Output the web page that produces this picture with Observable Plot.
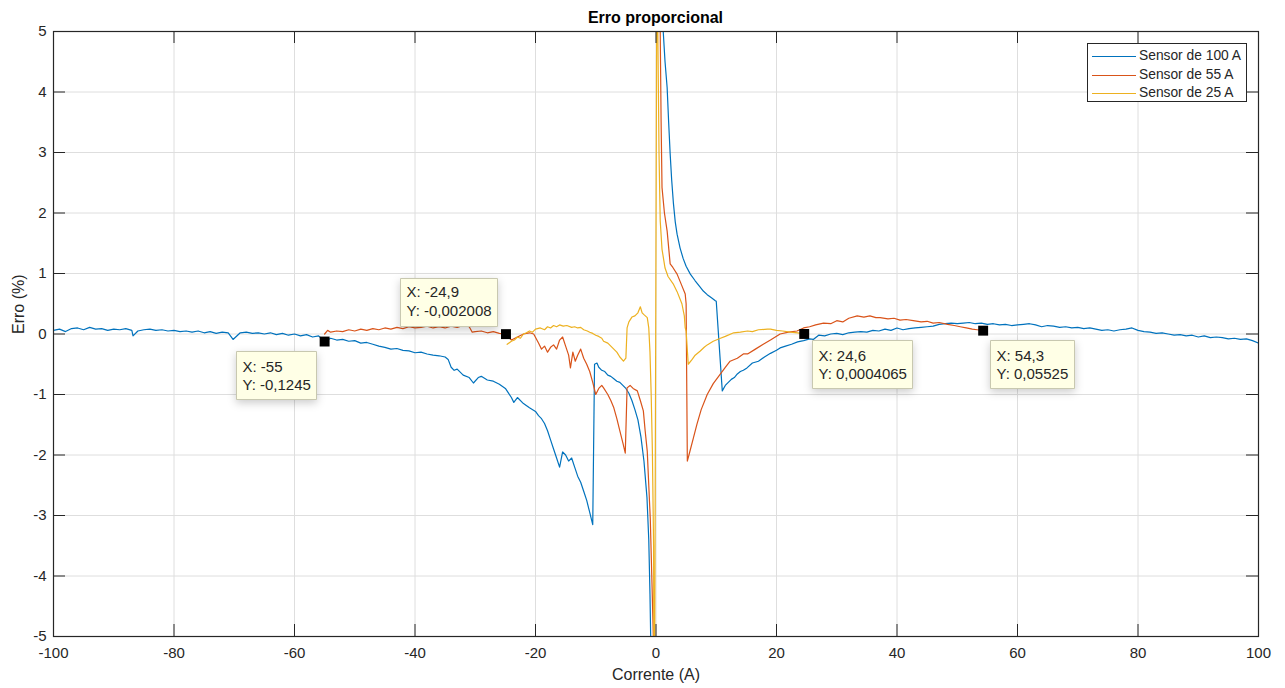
<!DOCTYPE html>
<html>
<head>
<meta charset="utf-8">
<script src="https://cdn.jsdelivr.net/npm/d3@7"></script>
<script src="https://cdn.jsdelivr.net/npm/@observablehq/plot@0.6"></script>
<style>
  html, body { margin: 0; padding: 0; background: #fff; }
  #wrap { position: relative; width: 1285px; height: 688px; font-family: "Liberation Sans", Arial, Helvetica, sans-serif; color: #262626; }
  #title { position: relative; z-index: 2; box-sizing: border-box; height: 15px; padding: 9px 27px 0 53px; line-height: 17px; text-align: center; font-weight: bold; font-size: 16px; color: #000; white-space: nowrap; }
  #legend { position: absolute; left: 1087px; top: 43px; width: 158px; height: 57px; border: 1px solid #262626; background: #fff; font-size: 13.8px; z-index: 3; }
  #legend .row { position: absolute; left: 0; height: 18px; line-height: 18px; white-space: nowrap; }
  #legend svg { position: absolute; left: 4px; top: 8px; }
  #legend span { position: absolute; left: 51px; top: 0; }
</style>
</head>
<body>
<div id="wrap">
  <div id="title">Erro proporcional</div>
  <div id="chart"></div>
  <div id="legend"></div>
</div>
<script>
// ---------- data ----------
const seriesNames = ["Sensor de 100 A", "Sensor de 55 A", "Sensor de 25 A"];
const seriesColors = ["#0072BD", "#D95319", "#EDB120"];

const xTicks = [-100, -80, -60, -40, -20, 0, 20, 40, 60, 80, 100];
const yTicks = [-5, -4, -3, -2, -1, 0, 1, 2, 3, 4, 5];

// Sensor de 100 A
const blueX = [-100,-99,-98,-97,-96,-95,-94,-93,-92,-91,-90,-89,-88,-87,-86.8,-86,-85,-84,-83,-82,-81,-80,-79,-78,-77,-76,-75,-74,-73,-72,-71,-70.2,-69,-68,-67,-66,-65,-64,-63,-62,-61,-60,-59,-58,-57,-56,-55,-54,-53,-52,-51,-50,-49,-48,-47,-46,-45,-44,-43,-42,-41,-40,-39,-38,-37,-36,-35,-34.5,-34,-33.5,-33,-32,-31,-30.3,-29.5,-29,-28,-27,-26,-25,-24,-23.6,-23,-22,-21,-20,-19.5,-19,-18.5,-18,-17.5,-17,-16.5,-16,-15.5,-15,-14.5,-14,-13.5,-13,-12.5,-12,-11.5,-11,-10.5,-10.2,-9.8,-9.5,-9,-8.5,-8,-7.5,-7,-6.5,-6,-5.5,-5,-4.5,-4,-3.5,-3,-2.5,-2,-1.5,-1.2,-1.0,-0.8,-0.6,
  0.1,
  0.9,1.2,1.5,1.85,2.1,2.35,2.6,2.9,3.2,3.5,4.0,4.5,5.0,5.7,6.5,7.2,7.85,8.5,9.2,9.85,10.0,11.0,11.5,12,12.5,13,13.5,14,14.5,15.1,16,17,18,19,20,20.6,21.5,22.5,23.5,24.5,25.5,26.1,27,28,29,30,31,32,33,34,35,36,37,38,39,40,41,42,43,44,45,46,47,48,49,50,51,52,53,54,55,56,57,58,59,60,61,62,63,64,65,66,67,68,69,70,71,72,73,74,75,76,77,78,79,80,81,82,83,84,85,86,87,88,89,90,91,92,93,94,95,96,97,98,99,100];
const blueY = [0.06,0.08,0.04,0.09,0.10,0.07,0.11,0.08,0.09,0.06,0.08,0.07,0.09,0.06,-0.03,0.05,0.07,0.08,0.06,0.07,0.05,0.06,0.04,0.05,0.03,0.05,0.02,0.04,0.01,0.03,0.02,-0.09,0.02,0.03,0.01,0.02,0.0,0.02,-0.01,0.01,-0.02,0.0,-0.03,-0.01,-0.05,-0.03,-0.1245,-0.07,-0.10,-0.09,-0.12,-0.11,-0.15,-0.14,-0.17,-0.20,-0.22,-0.25,-0.24,-0.27,-0.28,-0.31,-0.30,-0.33,-0.35,-0.36,-0.38,-0.42,-0.55,-0.60,-0.58,-0.68,-0.72,-0.81,-0.72,-0.70,-0.76,-0.78,-0.83,-0.90,-1.05,-1.13,-1.05,-1.15,-1.22,-1.28,-1.35,-1.40,-1.48,-1.60,-1.75,-1.90,-2.05,-2.20,-1.95,-2.00,-2.10,-2.05,-2.20,-2.35,-2.45,-2.60,-2.75,-2.95,-3.15,-0.50,-0.48,-0.55,-0.60,-0.62,-0.68,-0.70,-0.74,-0.78,-0.80,-0.85,-0.90,-0.98,-1.10,-1.25,-1.42,-1.70,-2.10,-2.70,-3.40,-4.30,-5.50,-8,
  NaN,
  8,5.0,4.5,4.07,3.5,2.98,2.55,2.15,1.85,1.65,1.42,1.25,1.12,0.99,0.88,0.79,0.71,0.65,0.60,0.55,0.54,-0.94,-0.85,-0.80,-0.75,-0.72,-0.66,-0.62,-0.60,-0.56,-0.48,-0.45,-0.38,-0.32,-0.27,-0.23,-0.20,-0.17,-0.13,-0.11,-0.08,-0.09,-0.02,-0.03,0.0,0.01,-0.01,0.02,0.03,0.04,0.03,0.06,0.05,0.08,0.06,0.10,0.07,0.09,0.10,0.11,0.12,0.13,0.16,0.17,0.18,0.17,0.18,0.19,0.17,0.18,0.16,0.17,0.15,0.16,0.14,0.15,0.16,0.17,0.15,0.12,0.14,0.13,0.11,0.12,0.10,0.11,0.09,0.10,0.08,0.06,0.07,0.05,0.07,0.08,0.10,0.06,0.04,0.03,0.01,0.02,0.0,-0.02,-0.01,-0.03,-0.02,-0.05,-0.03,-0.06,-0.05,-0.06,-0.08,-0.07,-0.09,-0.08,-0.11,-0.15];

// Sensor de 55 A
const redX = [-55,-54.5,-54,-53,-52,-51,-50,-49,-48,-47,-46,-45,-44,-43,-42,-41,-40,-39,-38,-37,-36,-35,-34,-33,-32,-31,-30.5,-30,-29,-28,-27,-26,-25,-24,-23,-22,-21,-20.3,-19.5,-19,-18.5,-18,-17.5,-17,-16.5,-16,-15.5,-15,-14.5,-14.2,-13.8,-13.4,-13,-12.5,-12,-11.5,-11,-10.5,-10,-9.5,-9,-8.7,-8,-7.5,-7,-6.5,-6,-5.5,-5.1,-4.8,-4.3,-3.8,-3.1,-2.6,-2.1,-1.8,-1.45,-1.2,-0.95,-0.7,-0.45,-0.3,
  0.1,
  0.5,0.7,0.85,1.0,1.4,1.85,2.35,2.8,3.5,4.2,4.85,5.0,5.2,5.6,6.2,6.8,7.5,8.5,9.5,10.7,11.5,12.3,13.5,14.5,15.2,16.5,17.8,19,20.6,22,23.4,24.5,25.5,26.5,27.8,29,30,31,32,33.4,34.5,35.5,36.5,37.2,38.5,39.5,40.5,41.5,42.7,44,45,46,47,48.4,49.5,50.5,51.5,52.5,53.3,54.3];
const redY = [0.0,0.06,0.03,0.05,0.04,0.07,0.05,0.08,0.06,0.09,0.07,0.10,0.08,0.11,0.09,0.12,0.10,0.11,0.13,0.10,0.12,0.10,0.13,0.11,0.14,0.12,0.03,0.04,0.05,0.02,0.04,0.01,-0.002,-0.10,-0.05,0.0,0.02,0.0,-0.15,-0.25,-0.20,-0.30,-0.22,-0.18,-0.25,-0.10,-0.05,-0.20,-0.35,-0.56,-0.30,-0.45,-0.35,-0.25,-0.40,-0.50,-0.62,-0.80,-1.00,-0.90,-0.85,-0.89,-1.00,-1.10,-1.22,-1.40,-1.60,-1.80,-1.97,-0.89,-0.85,-0.90,-0.94,-1.10,-1.27,-1.60,-1.94,-2.50,-3.05,-4.00,-4.97,-8,
  NaN,
  8,5,3.5,2.42,2.0,1.70,1.16,1.10,0.99,0.82,0.66,0.50,-2.10,-1.95,-1.72,-1.49,-1.25,-1.00,-0.82,-0.66,-0.55,-0.45,-0.40,-0.33,-0.33,-0.25,-0.17,-0.10,0.0,0.03,0.05,0.10,0.12,0.15,0.18,0.17,0.22,0.20,0.26,0.30,0.28,0.30,0.27,0.27,0.25,0.26,0.23,0.24,0.22,0.20,0.21,0.18,0.19,0.16,0.14,0.12,0.10,0.08,0.07,0.055];

// Sensor de 25 A
const yellowX = [-24.7,-24,-23.5,-23,-22.5,-22,-21.5,-21,-20.5,-20,-19.2,-18.5,-18,-17.5,-17,-16.5,-16,-15.4,-14.8,-14,-13.5,-13,-12.5,-12,-11.4,-11,-10.5,-10,-9.5,-9,-8.7,-8,-7.5,-7,-6.5,-6,-5.4,-5.0,-4.8,-4.5,-4.0,-3.5,-3.0,-2.6,-2.3,-2.0,-1.45,-1.2,-1.0,-0.8,-0.6,-0.4,-0.3,0.2,0.3,0.5,0.7,1.0,1.5,2.0,2.85,3.5,4.3,4.7,4.85,5.0,5.35,6,6.5,7.35,8,8.5,9.5,10.7,11.5,12.9,14,15.2,16,17,18.5,19,20,21,22.3,23.5,24.6];
const yellowY = [-0.17,-0.12,-0.10,-0.05,-0.07,0.0,0.02,0.05,0.03,0.08,0.10,0.07,0.12,0.10,0.14,0.12,0.15,0.13,0.14,0.11,0.12,0.10,0.11,0.07,0.05,0.03,0.01,-0.02,-0.04,-0.07,-0.12,-0.15,-0.20,-0.25,-0.30,-0.38,-0.45,-0.40,0.10,0.20,0.28,0.30,0.35,0.45,0.35,0.32,0.27,0.10,-0.30,-1.00,-1.94,-3.50,-8,8,5,3,1.87,1.40,1.09,0.95,0.83,0.70,0.50,0.30,0.10,0.05,-0.50,-0.42,-0.35,-0.28,-0.22,-0.18,-0.12,-0.07,-0.04,0.02,0.03,0.05,0.04,0.07,0.08,0.08,0.06,0.05,0.03,0.02,0.0004];

// Data tips
const tipX = [-55, -24.9, 24.6, 54.3];
const tipY = [-0.1245, -0.002008, 0.0004065, 0.05525];
const tipLabels = ["X: -55\nY: -0,1245", "X: -24,9\nY: -0,002008", "X: 24,6\nY: 0,0004065", "X: 54,3\nY: 0,05525"];

// ---------- build ----------
const toRows = (xs, ys, name) => xs.map((x, i) => ({x, y: ys[i], name}));
const lines = [
  toRows(blueX, blueY, seriesNames[0]),
  toRows(redX, redY, seriesNames[1]),
  toRows(yellowX, yellowY, seriesNames[2])
];
const tips = tipX.map((x, i) => ({x, y: tipY[i], label: tipLabels[i]}));
const tipAnchors = ["top-right", "bottom-right", "top-left", "top-left"];
const tipDx = [-8, -8, 8, 7];
const tipDy = [10, -8, 7, 10];

const W = 1285, H = 673, mt = 16, mb = 52, ml = 53, mr = 27;
const fw = W - ml - mr, fh = H - mt - mb, tick = 12;
const plain = d => String(d);

const chart = Plot.plot({
  width: W, height: H,
  marginTop: mt, marginBottom: mb, marginLeft: ml, marginRight: mr,
  style: {fontFamily: '"Liberation Sans", Arial, Helvetica, sans-serif', fontSize: "15px", color: "#262626", background: "transparent"},
  x: {domain: [-100, 100]},
  y: {domain: [-5, 5]},
  marks: [
    Plot.gridX(xTicks, {stroke: "#dedede", strokeOpacity: 1}),
    Plot.gridY(yTicks, {stroke: "#dedede", strokeOpacity: 1}),
    ...lines.map((d, i) => Plot.line(d, {x: "x", y: "y", stroke: seriesColors[i], strokeWidth: 1.2, clip: true})),
    Plot.frame({stroke: "#262626", strokeWidth: 1.2}),
    Plot.tickX(xTicks, {insetTop: fh - tick, stroke: "#262626"}),
    Plot.tickX(xTicks, {insetBottom: fh - tick, stroke: "#262626"}),
    Plot.tickY(yTicks, {insetRight: fw - tick, stroke: "#262626"}),
    Plot.tickY(yTicks, {insetLeft: fw - tick, stroke: "#262626"}),
    Plot.axisX(xTicks, {tickSize: 0, tickPadding: 11, label: null, fontSize: 15, tickFormat: plain}),
    Plot.axisY(yTicks, {tickSize: 0, tickPadding: 7, label: null, fontSize: 15, tickFormat: plain}),
    Plot.text(["Corrente (A)"], {frameAnchor: "bottom", dy: 43, lineAnchor: "bottom", fontSize: 16, fill: "#262626"}),
    Plot.text(["Erro (%)"], {frameAnchor: "left", dx: -35, rotate: -90, fontSize: 16, fill: "#262626"}),
    Plot.dot(tips, {x: "x", y: "y", symbol: "square", r: 5.6, fill: "#000", stroke: null}),
    ...tips.map((t, i) => Plot.tip([t], {
      x: "x", y: "y", title: "label", anchor: tipAnchors[i], dx: tipDx[i], dy: tipDy[i],
      pointerSize: 0, fill: "#ffffe6", stroke: "#c8c8b0", fontSize: 15, lineHeight: 1.25, textPadding: 6
    }))
  ]
});
document.getElementById("chart").appendChild(chart);

// Legend (overlay inside the axes box, like the original)
const legend = document.getElementById("legend");
seriesNames.forEach((name, i) => {
  const row = document.createElement("div");
  row.className = "row";
  row.style.top = (3 + i * 18.5) + "px";
  row.innerHTML = `<svg width="46" height="3"><line x1="0" y1="1.5" x2="44" y2="1.5" stroke="${seriesColors[i]}" stroke-width="1.2"/></svg><span>${name}</span>`;
  legend.appendChild(row);
});
</script>
</body>
</html>
